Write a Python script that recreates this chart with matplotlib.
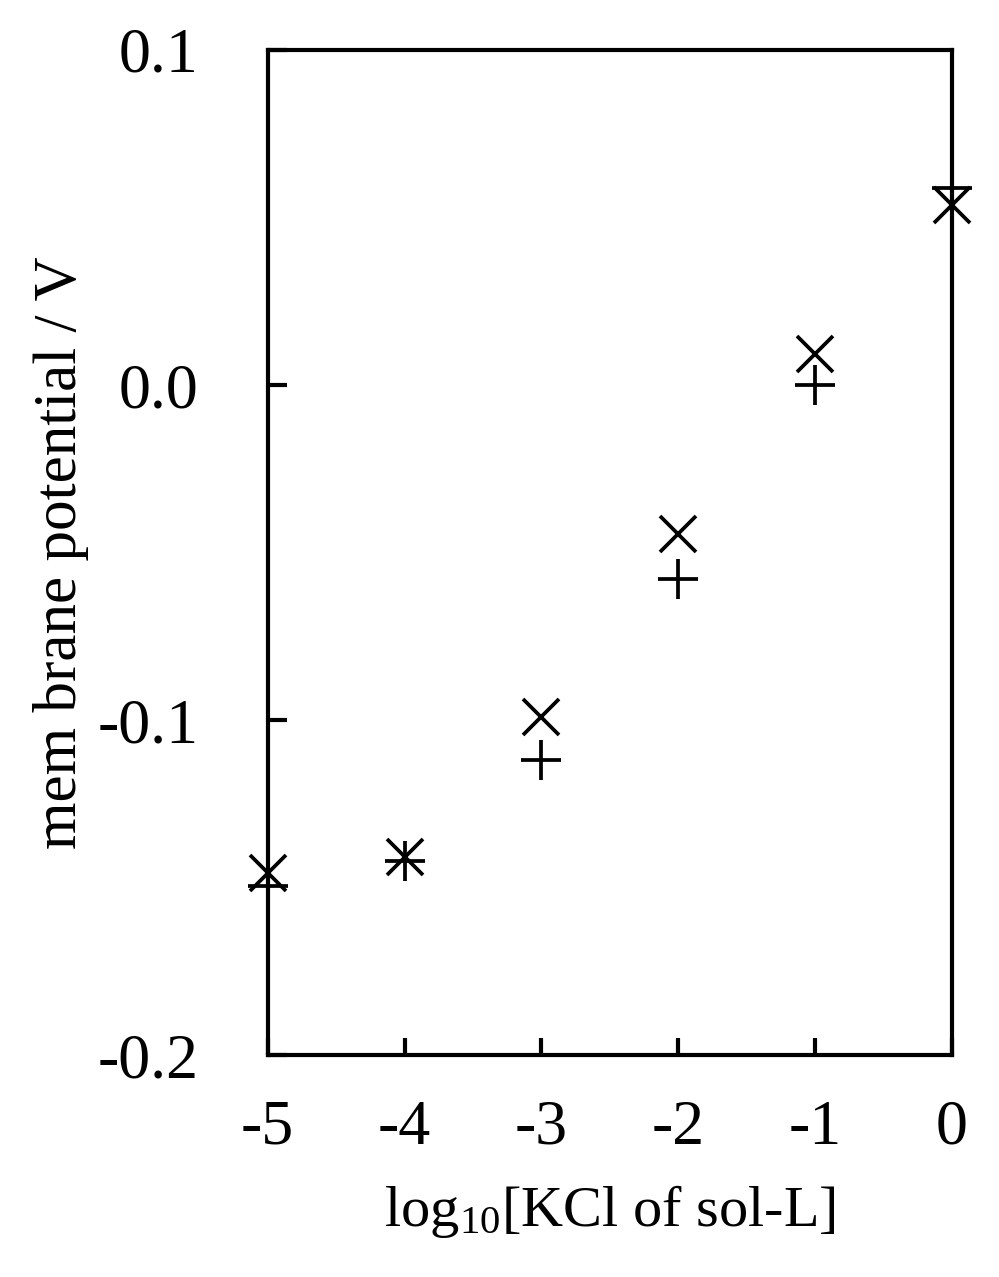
import matplotlib
matplotlib.use("Agg")
import matplotlib.pyplot as plt

plt.rcParams["font.family"] = ["Liberation Serif", "DejaVu Serif"]
plt.rcParams["mathtext.fontset"] = "custom"
plt.rcParams["mathtext.rm"] = "Liberation Serif"
plt.rcParams["mathtext.it"] = "Liberation Serif:italic"

# log10 of KCl concentration in sol-L
log_kcl = [-5, -4, -3, -2, -1, 0]
# membrane potential / V
pot_cross = [-0.1457, -0.1408, -0.0990, -0.0444, 0.0093, 0.0538]
pot_plus = [-0.1494, -0.1420, -0.1120, -0.0580, 0.0000, 0.0587]

x_ticks = [-5, -4, -3, -2, -1, 0]
y_ticks = [-0.2, -0.1, 0.0, 0.1]
y_tick_labels = ["-0.2", "-0.1", "0.0", "0.1"]

fig = plt.figure(figsize=(9.99, 12.77), dpi=100)
ax = fig.add_axes([0.268, 0.1735, 0.685, 0.7875])

ax.plot(log_kcl, pot_cross, linestyle="none", marker="x", color="black",
        markersize=26, markeredgewidth=2.7, clip_on=False)
ax.plot(log_kcl, pot_plus, linestyle="none", marker="+", color="black",
        markersize=29, markeredgewidth=2.7, clip_on=False)

ax.set_xlim(-5, 0)
ax.set_ylim(-0.2, 0.1)
ax.set_xticks(x_ticks)
ax.set_xticklabels([str(v) for v in x_ticks])
ax.set_yticks(y_ticks)
ax.set_yticklabels(y_tick_labels)

for s in ax.spines.values():
    s.set_linewidth(3)

ax.tick_params(axis="y", direction="in", length=14, width=3, pad=50, labelsize=46)
ax.tick_params(axis="x", direction="in", length=12, width=3, pad=32, labelsize=46)

ax.set_xlabel("log$_{10}$[KCl of sol-L]", fontsize=42, labelpad=18)
ax.set_ylabel("mem brane potential / V", fontsize=44, labelpad=6)

fig.savefig("out.png", dpi=100)
